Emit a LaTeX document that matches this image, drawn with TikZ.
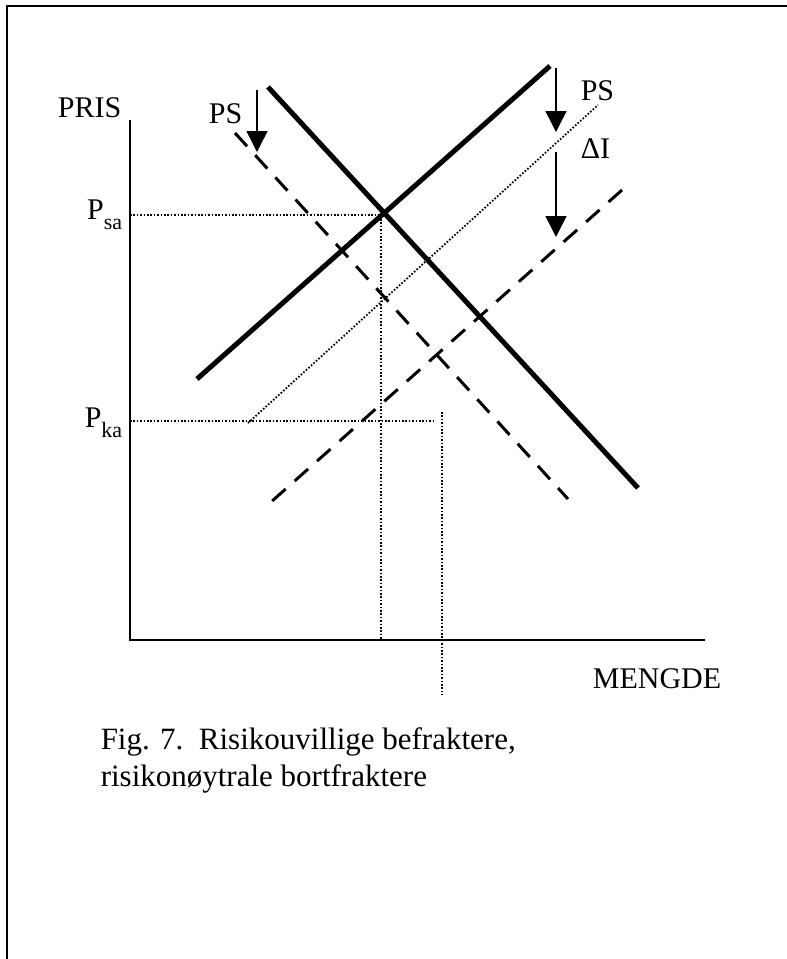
\documentclass[tikz,border=0pt]{standalone}
\usepackage{fontspec}
\setmainfont{Liberation Serif}
\usetikzlibrary{arrows.meta}
\newcommand{\lowsub}[1]{\raisebox{-5pt}{\fontsize{11}{13}\selectfont #1}}

\begin{document}
\begin{tikzpicture}[x=.5pt,y=-.5pt,line width=.75pt,font=\fontsize{15}{18}\selectfont,
  thick line/.style={line width=2.5pt},
  dash line/.style={line width=1.5pt,dash pattern=on 9pt off 6pt},
  dot line/.style={line width=.9pt,dash pattern=on .8pt off .9pt},
  shift arrow/.style={-{Triangle[width=10.5pt,length=10.5pt]}}]
\useasboundingbox (0,0) rectangle (787,959);
% frame
\draw[line width=1.25pt] (787,6)--(7,6)--(7,959);
% axes
\draw[line width=1pt] (130,120)--(130,640)--(705,640);
\node[anchor=base east,inner sep=0pt] (pris) at (122,117) {PRIS};
\node[anchor=base,inner sep=0pt] (mengde) at (657,688) {MENGDE};
% guide lines
\draw[dot line] (130,215)--(381,215)--(381,640);
\draw[dot line] (130,421)--(435,421);
\draw[dot line] (442,412)--(442,695);
\node[anchor=base east,inner sep=0pt] (psa) at (123,219) {P\lowsub{sa}};
\node[anchor=base east,inner sep=0pt] (pka) at (123,427) {P\lowsub{ka}};
% curves
\draw[thick line] (268,87)--(638,488);
\draw[thick line] (197,379)--(550,66);
\draw[dash line] (235,133)--(568,499);
\draw[dash line] (622,190)--(271,502);
\draw[dot line] (248,423)--(598,105);
% shifts
\draw[shift arrow] (257,90)--(257,152);
\draw[shift arrow] (556,68)--(556,132);
\draw[shift arrow] (556,152)--(556,237);
\node[anchor=base east,inner sep=0pt] (psl) at (243,123) {PS};
\node[anchor=base west,inner sep=0pt] (psr) at (580,100) {PS};
\node[anchor=base west,inner sep=0pt] (di) at (580,158) {ΔI};
% caption
\node[anchor=base west,inner sep=0pt,font=\fontsize{15.5}{18}\selectfont] (cap1) at (100,749) {Fig. 7.\ \ Risikouvillige befraktere,};
\node[anchor=base west,inner sep=0pt,font=\fontsize{15.5}{18}\selectfont] (cap2) at (100,786) {risikonøytrale bortfraktere};
\end{tikzpicture}
\end{document}
